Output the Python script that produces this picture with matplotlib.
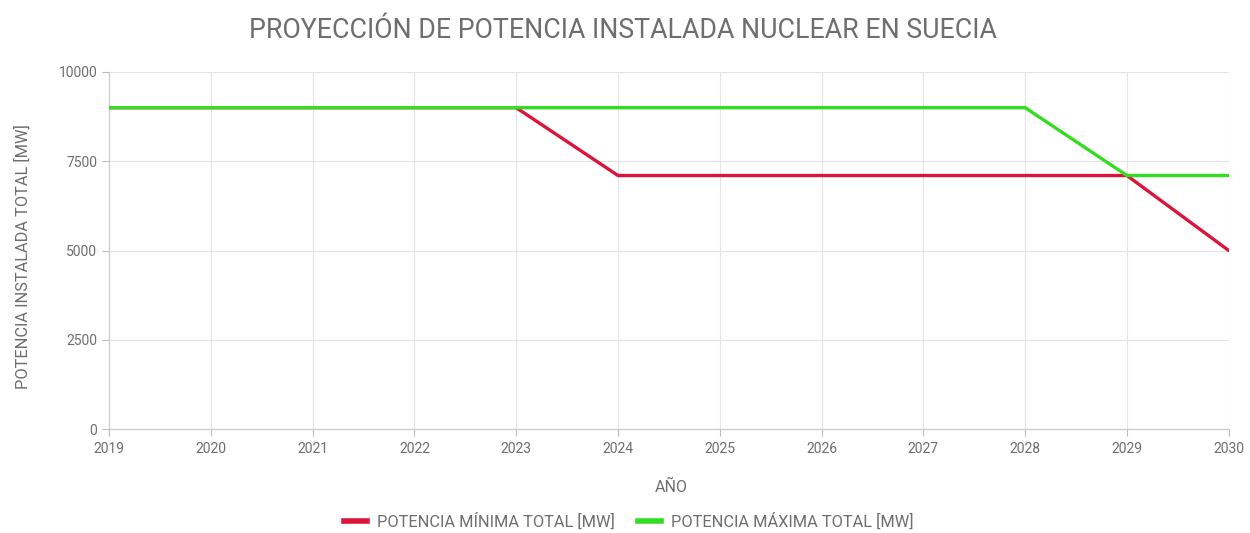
import matplotlib
matplotlib.use("Agg")
import matplotlib.pyplot as plt
from matplotlib.lines import Line2D

plt.rcParams['font.family'] = ['Roboto', 'DejaVu Sans']

years = [2019, 2020, 2021, 2022, 2023, 2024, 2025, 2026, 2027, 2028, 2029, 2030]
pot_min = [9000, 9000, 9000, 9000, 9000, 7100, 7100, 7100, 7100, 7100, 7100, 5000]
pot_max = [9000, 9000, 9000, 9000, 9000, 9000, 9000, 9000, 9000, 9000, 7100, 7100]
yticks = [0, 2500, 5000, 7500, 10000]

title = "PROYECCIÓN DE POTENCIA INSTALADA NUCLEAR EN SUECIA"
label_min = "POTENCIA MÍNIMA TOTAL [MW]"
label_max = "POTENCIA MÁXIMA TOTAL [MW]"
red = "#DC143C"
green = "#33DD22"
txt = "#6e6e6e"

fig = plt.figure(figsize=(12.5, 5.33), dpi=100)
ax = fig.add_axes([0.0872, 0.195, 0.983 - 0.0872, 0.865 - 0.195])

ax.plot(years, pot_min, color=red, lw=2.4, solid_capstyle='round', zorder=3)
ax.plot(years, pot_max, color=green, lw=2.4, solid_capstyle='round', zorder=4)

ax.set_xlim(2019, 2030)
ax.set_ylim(0, 10000)
ax.set_xticks(years)
ax.set_xticklabels([str(y) for y in years])
ax.set_yticks(yticks)
ax.tick_params(axis='both', colors='#bbbbbb', labelcolor=txt, labelsize=10, length=5, width=0.8)
ax.tick_params(axis='x', pad=4)
ax.grid(True, color='#e4e4e4', lw=0.8)
for s in ['top', 'right']:
    ax.spines[s].set_visible(False)
for s in ['left', 'bottom']:
    ax.spines[s].set_color('#cccccc')
    ax.spines[s].set_linewidth(0.9)

fig.text(0.498, 0.943, title, ha='center', va='center', fontsize=19.3, color=txt)
fig.text(0.537, 0.086, "AÑO", ha='center', va='center', fontsize=11.5, color=txt)
fig.text(0.018, 0.518, "POTENCIA INSTALADA TOTAL [MW]", ha='center', va='center',
         rotation=90, fontsize=11.8, color=txt)

handles = [Line2D([0], [0], color=red, lw=4), Line2D([0], [0], color=green, lw=4)]
fig.legend(handles, [label_min, label_max], loc='center', bbox_to_anchor=(0.503, 0.022),
           ncol=2, frameon=False, fontsize=11.8, labelcolor=txt, handlelength=1.4,
           columnspacing=1.4, handletextpad=0.6)

fig.savefig("out.png", dpi=100, facecolor='white')
